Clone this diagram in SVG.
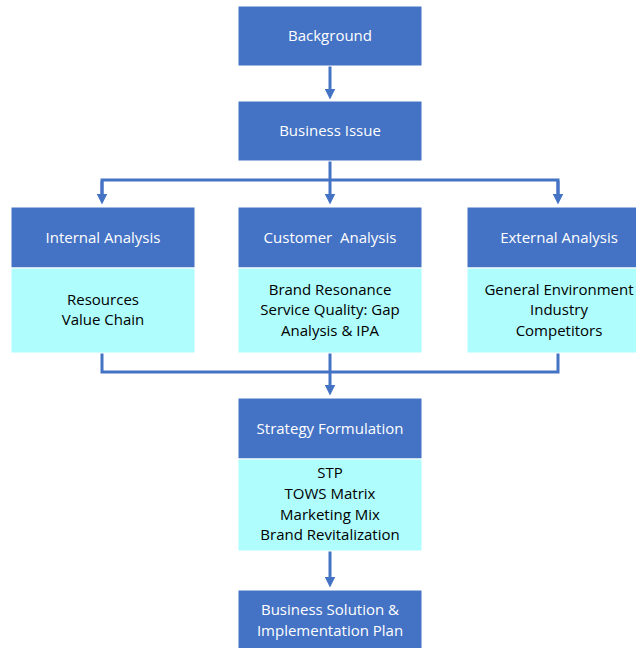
<svg xmlns="http://www.w3.org/2000/svg" width="636" height="648" viewBox="0 0 636 648">
<defs>
<marker id="ah" markerWidth="11" markerHeight="11" refX="5.5" refY="5.5" orient="auto" markerUnits="userSpaceOnUse" viewBox="0 0 11 11">
<path d="M0,0 L11,5.5 L0,11 z" fill="#4472C4"/>
</marker>
<style>
.hd{fill:#4472C4;stroke:#ffffff;stroke-width:1}
.bd{fill:#AFFDFD;stroke:#ffffff;stroke-width:1}
.wt{fill:#ffffff;font-family:"Open Sans","Liberation Sans",sans-serif;font-size:15px;text-anchor:middle}
.bt{fill:#000000;font-family:"Open Sans","Liberation Sans",sans-serif;font-size:15px;text-anchor:middle}
.cn{fill:none;stroke:#4472C4;stroke-width:3}
</style>
</defs>
<rect width="636" height="648" fill="#ffffff"/>
<g id="connectors">
<path class="cn" d="M330,66 V94" marker-end="url(#ah)"/>
<path class="cn" d="M330,161 V199" marker-end="url(#ah)"/>
<path class="cn" d="M102,199 V180 H558 V199"/>
<path class="cn" d="M102,181 V199" marker-end="url(#ah)"/>
<path class="cn" d="M558,181 V199" marker-end="url(#ah)"/>
<path class="cn" d="M102,352 V372 H558 V352"/>
<path class="cn" d="M330,352 V390" marker-end="url(#ah)"/>
<path class="cn" d="M330,551 V582" marker-end="url(#ah)"/>
</g>
<g id="background">
<rect class="hd" x="238" y="6" width="184" height="60"/>
<text class="wt" x="330" y="41">Background</text>
</g>
<g id="business-issue">
<rect class="hd" x="238" y="101" width="184" height="60"/>
<text class="wt" x="330" y="136">Business Issue</text>
</g>
<g id="internal-analysis">
<rect class="hd" x="11" y="207" width="184" height="61"/>
<rect class="bd" x="11" y="268" width="184" height="85"/>
<text class="wt" x="103" y="243">Internal Analysis</text>
<text class="bt" x="103" y="305">Resources</text>
<text class="bt" x="103" y="325">Value Chain</text>
</g>
<g id="customer-analysis">
<rect class="hd" x="238" y="207" width="184" height="61"/>
<rect class="bd" x="238" y="268" width="184" height="85"/>
<text class="wt" x="330" y="243" xml:space="preserve">Customer  Analysis</text>
<text class="bt" x="330" y="295">Brand Resonance</text>
<text class="bt" x="330" y="315">Service Quality: Gap</text>
<text class="bt" x="330" y="336">Analysis &amp; IPA</text>
</g>
<g id="external-analysis">
<rect class="hd" x="467" y="207" width="184" height="61"/>
<rect class="bd" x="467" y="268" width="184" height="85"/>
<text class="wt" x="559" y="243">External Analysis</text>
<text class="bt" x="559" y="295">General Environment</text>
<text class="bt" x="559" y="315">Industry</text>
<text class="bt" x="559" y="336">Competitors</text>
</g>
<g id="strategy-formulation">
<rect class="hd" x="238" y="398" width="184" height="61"/>
<rect class="bd" x="238" y="459" width="184" height="92"/>
<text class="wt" x="330" y="434">Strategy Formulation</text>
<text class="bt" x="330" y="478">STP</text>
<text class="bt" x="330" y="499">TOWS Matrix</text>
<text class="bt" x="330" y="520">Marketing Mix</text>
<text class="bt" x="330" y="540">Brand Revitalization</text>
</g>
<g id="business-solution">
<rect class="hd" x="238" y="590" width="184" height="62"/>
<text class="wt" x="330" y="615">Business Solution &amp;</text>
<text class="wt" x="330" y="636">Implementation Plan</text>
</g>
</svg>
